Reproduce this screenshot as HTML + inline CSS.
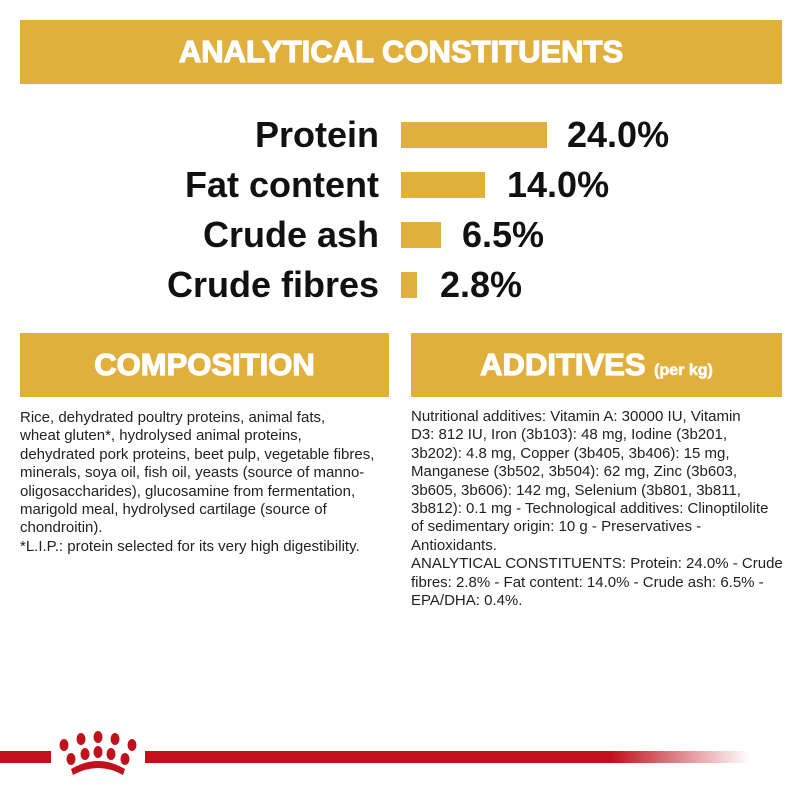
<!DOCTYPE html>
<html><head><meta charset="utf-8"><style>
body{margin:0;width:800px;height:800px;background:#fff;position:relative;overflow:hidden;font-family:"Liberation Sans",sans-serif}
.hdr{position:absolute;background:#e1b03c;color:#fff;font-weight:bold;text-align:center;-webkit-text-stroke:1.2px #fff}
.lbl{position:absolute;right:421px;font-weight:bold;font-size:36px;color:#111;white-space:nowrap;line-height:36px}
.pct{position:absolute;font-weight:bold;font-size:36px;color:#111;line-height:36px}
.bar{position:absolute;left:401px;height:26px;background:#e1b03c}
.txt{position:absolute;font-size:15px;line-height:18.4px;color:#222;white-space:nowrap}
</style></head><body>
<div class="hdr" style="left:20px;top:20px;width:762px;height:64px;font-size:31px;line-height:64px;">ANALYTICAL CONSTITUENTS</div>

<div class="lbl" style="top:117px">Protein</div><div class="bar" style="top:122px;width:146px"></div><div class="pct" style="left:567px;top:117px">24.0%</div>
<div class="lbl" style="top:167px">Fat content</div><div class="bar" style="top:172px;width:84px"></div><div class="pct" style="left:507px;top:167px">14.0%</div>
<div class="lbl" style="top:217px">Crude ash</div><div class="bar" style="top:222px;width:40px"></div><div class="pct" style="left:462px;top:217px">6.5%</div>
<div class="lbl" style="top:267px">Crude fibres</div><div class="bar" style="top:272px;width:16px"></div><div class="pct" style="left:440px;top:267px">2.8%</div>

<div class="hdr" style="left:20px;top:333px;width:369px;height:64px;font-size:31px;line-height:64px;">COMPOSITION</div>
<div class="hdr" style="left:411px;top:333px;width:371px;height:64px;font-size:31px;line-height:64px;">ADDITIVES <span style="font-size:16px;-webkit-text-stroke:.6px #fff">(per kg)</span></div>

<div class="txt" style="left:20px;top:409px">Rice, dehydrated poultry proteins, animal fats,<br>wheat gluten*, hydrolysed animal proteins,<br>dehydrated pork proteins, beet pulp, vegetable fibres,<br>minerals, soya oil, fish oil, yeasts (source of manno-<br>oligosaccharides), glucosamine from fermentation,<br>marigold meal, hydrolysed cartilage (source of<br>chondroitin).<br>*L.I.P.: protein selected for its very high digestibility.</div>
<div class="txt" style="left:411px;top:408px">Nutritional additives: Vitamin A: 30000 IU, Vitamin<br>D3: 812 IU, Iron (3b103): 48 mg, Iodine (3b201,<br>3b202): 4.8 mg, Copper (3b405, 3b406): 15 mg,<br>Manganese (3b502, 3b504): 62 mg, Zinc (3b603,<br>3b605, 3b606): 142 mg, Selenium (3b801, 3b811,<br>3b812): 0.1 mg - Technological additives: Clinoptilolite<br>of sedimentary origin: 10 g - Preservatives -<br>Antioxidants.<br>ANALYTICAL CONSTITUENTS: Protein: 24.0% - Crude<br>fibres: 2.8% - Fat content: 14.0% - Crude ash: 6.5% -<br>EPA/DHA: 0.4%.</div>

<div style="position:absolute;left:0;top:751px;width:51px;height:12px;background:#c0111c"></div>
<div style="position:absolute;left:145px;top:751px;width:605px;height:12px;background:linear-gradient(to right,#c0111c 0,#c0111c 77%,rgba(192,17,28,0) 100%)"></div>
<svg style="position:absolute;left:57px;top:731px" width="85" height="48" viewBox="0 0 85 48">
<g fill="#c0111c">
<ellipse cx="7" cy="14" rx="4.5" ry="6"/><ellipse cx="24" cy="8" rx="4.5" ry="6"/><ellipse cx="41" cy="6" rx="4.5" ry="6"/><ellipse cx="58" cy="8" rx="4.5" ry="6"/><ellipse cx="75" cy="14" rx="4.5" ry="6"/>
<ellipse cx="14" cy="28" rx="4.5" ry="6"/><ellipse cx="28" cy="23" rx="4.5" ry="6"/><ellipse cx="41" cy="21" rx="4.5" ry="6"/><ellipse cx="54" cy="23" rx="4.5" ry="6"/><ellipse cx="68" cy="28" rx="4.5" ry="6"/>
<path d="M14 38 Q41 22 68 38 L66 44 Q41 30 16 44Z"/>
</g></svg>
</body></html>
